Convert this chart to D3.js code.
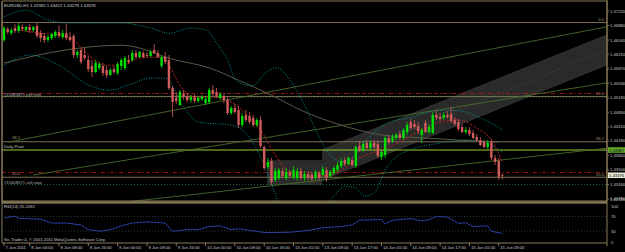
<!DOCTYPE html>
<html><head><meta charset="utf-8">
<script src="https://cdn.jsdelivr.net/npm/d3@7"></script>
<style>html,body{margin:0;padding:0;background:#000;overflow:hidden}svg{display:block}</style>
</head><body>
<svg id="c" width="625" height="252"></svg>
<script>
// ---------------- data ----------------
const titleText = "EURUSD,H1  1.43385 1.43422 1.43279 1.43376";
const rsiTitle = "RSI(14) 35.2092";
const copyright = "Sic Trader 4, \u00a9 2001-2011 MetaQuotes Software Corp.";
const timeLabels = ["7 Jun 2011","8 Jun 00:00","8 Jun 08:00","8 Jun 16:00","9 Jun 00:00","9 Jun 08:00","9 Jun 16:00","10 Jun 00:00","10 Jun 08:00","10 Jun 16:00","13 Jun 01:00","13 Jun 09:00","13 Jun 17:00","14 Jun 01:00","14 Jun 09:00","14 Jun 17:00","15 Jun 01:00","15 Jun 09:00"];
const timeLabelBars = [0,7,15,23,31,39,47,55,63,71,79,87,95,103,111,119,127,135];
const priceTicks = [1.4722,1.4688,1.4654,1.4621,1.4587,1.4553,1.4519,1.4485,1.4451,1.4418,1.4384,1.4350,1.4316,1.4282];
const bottomPriceLabel = "1.42780";
const rsiTicks = [100,70,30,0];
const rsiLevels = [70,30];
// candles: [open, high, low, close]
const candles = [
[1.46541,1.46869,1.46494,1.46822],[1.46798,1.46845,1.46681,1.46728],[1.46705,1.46822,1.46658,1.46775],[1.46822,1.46915,1.46705,1.46752],
[1.46752,1.46939,1.46705,1.46869],[1.46845,1.46915,1.46752,1.46798],[1.46775,1.46869,1.46728,1.46845],[1.46845,1.46915,1.46705,1.46775],
[1.46775,1.46869,1.46728,1.46845],[1.46869,1.46939,1.46588,1.46635],[1.46705,1.46775,1.46494,1.46588],[1.46635,1.46705,1.46471,1.46541],
[1.46541,1.46658,1.46494,1.46611],[1.46588,1.46705,1.46541,1.46681],[1.46635,1.46775,1.46588,1.46728],[1.46728,1.46892,1.46588,1.46635],
[1.46611,1.46775,1.46564,1.46705],[1.46705,1.46915,1.46541,1.46588],[1.46611,1.46728,1.46494,1.46541],[1.46635,1.46681,1.46120,1.46190],
[1.46190,1.46307,1.46120,1.46260],[1.46307,1.46354,1.45979,1.46026],[1.46190,1.46354,1.46073,1.46120],[1.46073,1.46167,1.45792,1.45862],
[1.45933,1.46073,1.45675,1.45792],[1.45792,1.46073,1.45769,1.46003],[1.45886,1.46026,1.45839,1.45979],[1.45933,1.46003,1.45699,1.45769],
[1.45839,1.45933,1.45652,1.45722],[1.45722,1.45886,1.45699,1.45839],[1.45862,1.45933,1.45745,1.45792],[1.45769,1.46026,1.45722,1.45979],
[1.45933,1.46120,1.45839,1.46073],[1.45886,1.46167,1.45839,1.46120],[1.46073,1.46190,1.45979,1.46026],[1.46073,1.46307,1.46026,1.46237],
[1.46237,1.46307,1.46120,1.46143],[1.46143,1.46284,1.46120,1.46260],[1.46237,1.46284,1.46120,1.46143],[1.46190,1.46260,1.46143,1.46167],
[1.46167,1.46307,1.46143,1.46260],[1.46307,1.46447,1.46213,1.46237],[1.46237,1.46307,1.46120,1.46143],[1.45933,1.46167,1.45886,1.46143],
[1.46143,1.46260,1.45979,1.46026],[1.46073,1.46190,1.45371,1.45418],[1.45418,1.45465,1.44739,1.45090],[1.45184,1.45324,1.45043,1.45114],
[1.45020,1.45371,1.44997,1.45324],[1.45277,1.45371,1.45137,1.45207],[1.45231,1.45301,1.45090,1.45137],[1.45137,1.45254,1.45067,1.45207],
[1.45207,1.45277,1.45067,1.45114],[1.45114,1.45231,1.45067,1.45184],[1.45161,1.45254,1.45114,1.45207],[1.45067,1.45231,1.45020,1.45161],
[1.45090,1.45418,1.45043,1.45371],[1.45371,1.45488,1.45231,1.45277],[1.45324,1.45418,1.45184,1.45231],[1.45184,1.45324,1.45137,1.45277],
[1.45231,1.45301,1.45067,1.45137],[1.45137,1.45207,1.44786,1.44833],[1.44833,1.44997,1.44786,1.44950],[1.44950,1.45043,1.44809,1.44856],
[1.44903,1.44997,1.44482,1.44552],[1.44552,1.44833,1.44505,1.44763],[1.44786,1.44903,1.44622,1.44669],[1.44763,1.44856,1.44575,1.44622],
[1.44716,1.44786,1.44505,1.44552],[1.44552,1.44716,1.44505,1.44669],[1.44669,1.44763,1.44014,1.44061],[1.44037,1.44084,1.43499,1.43546],
[1.43569,1.43780,1.43522,1.43686],[1.43710,1.43780,1.43148,1.43218],[1.43265,1.43546,1.43218,1.43476],[1.43312,1.43546,1.43265,1.43499],
[1.43476,1.43546,1.43312,1.43359],[1.43312,1.43546,1.43265,1.43452],[1.43452,1.43499,1.43312,1.43359],[1.43335,1.43593,1.43288,1.43499],
[1.43312,1.43546,1.43242,1.43476],[1.43476,1.43546,1.43265,1.43312],[1.43312,1.43476,1.43242,1.43405],[1.43405,1.43476,1.43265,1.43312],
[1.43382,1.43452,1.43242,1.43288],[1.43312,1.43499,1.43265,1.43452],[1.43429,1.43476,1.43265,1.43312],[1.43382,1.43593,1.43335,1.43522],
[1.43499,1.43569,1.43218,1.43312],[1.43359,1.43499,1.43312,1.43452],[1.43429,1.43593,1.43382,1.43546],[1.43499,1.43686,1.43452,1.43616],
[1.43593,1.43780,1.43546,1.43710],[1.43733,1.43803,1.43593,1.43639],[1.43639,1.43827,1.43616,1.43780],[1.43733,1.43803,1.43569,1.43616],
[1.43593,1.44084,1.43546,1.44037],[1.44061,1.44178,1.43920,1.43967],[1.43967,1.44178,1.43920,1.44107],[1.44131,1.44201,1.43967,1.44014],
[1.44014,1.44201,1.43967,1.44131],[1.44131,1.44201,1.43990,1.44037],[1.44107,1.44201,1.43780,1.43827],[1.43803,1.43967,1.43733,1.43920],
[1.43850,1.44295,1.43780,1.44248],[1.44248,1.44318,1.44084,1.44154],[1.44178,1.44341,1.44131,1.44271],[1.44248,1.44365,1.44201,1.44318],
[1.44341,1.44412,1.44201,1.44248],[1.44248,1.44482,1.44201,1.44435],[1.44388,1.44622,1.44318,1.44552],[1.44622,1.44692,1.44435,1.44482],
[1.44575,1.44669,1.44458,1.44505],[1.44529,1.44622,1.44341,1.44412],[1.44318,1.44482,1.44131,1.44435],[1.44599,1.44669,1.44365,1.44388],
[1.44388,1.44575,1.44341,1.44505],[1.44365,1.44856,1.44341,1.44786],[1.44786,1.44903,1.44669,1.44716],[1.44739,1.44833,1.44646,1.44692],
[1.44716,1.44856,1.44669,1.44786],[1.44786,1.44880,1.44692,1.44739],[1.44809,1.44973,1.44599,1.44646],[1.44669,1.44739,1.44529,1.44575],
[1.44622,1.44692,1.44412,1.44458],[1.44505,1.44575,1.44365,1.44388],[1.44388,1.44505,1.44341,1.44435],[1.44435,1.44505,1.44295,1.44341],
[1.44365,1.44435,1.44224,1.44248],[1.44271,1.44341,1.44154,1.44201],[1.44201,1.44271,1.44061,1.44084],[1.44154,1.44201,1.44014,1.44037],
[1.44037,1.44201,1.43990,1.44131],[1.44154,1.44224,1.43733,1.43780],[1.43780,1.43850,1.43616,1.43686],[1.43710,1.43780,1.43265,1.43335],
[1.43385,1.43422,1.43279,1.43376]
];
// indicator curves: [bar, price]
const bbUpper = [[0,1.4708],[6,1.4724],[12,1.4701],[17,1.4694],[32,1.4694],[40,1.4682],[45,1.4670],[51,1.4682],[55,1.4678],[58,1.4647],[61,1.4607],[63.6,1.4556],[68,1.4547],[71,1.4575],[74.5,1.4589],[78,1.4561],[82,1.4502],[85.7,1.4432],[89,1.4385],[92.2,1.4369],[95,1.4378],[97.7,1.4408],[101.2,1.4439],[105.3,1.4462],[110.8,1.4472],[116.2,1.4486],[121.7,1.4490],[125.8,1.4486],[129.9,1.4472],[134,1.4455],[136,1.4444]];
const bbLower = [[0,1.4595],[7,1.4619],[15,1.4595],[23,1.4549],[29,1.4537],[34,1.4549],[40,1.4565],[44,1.4565],[49,1.4497],[53,1.4462],[62,1.4455],[67.1,1.4425],[70.4,1.4373],[73.1,1.4315],[75.3,1.4268],[80.8,1.4245],[86.2,1.4256],[90.3,1.4291],[93,1.4312],[95.8,1.4308],[98.5,1.4289],[101.2,1.4298],[104,1.4350],[106.7,1.4378],[110.8,1.4397],[119,1.4413],[127.1,1.4420],[131,1.4415],[136,1.4392]];
const maFast = [[4,1.4678],[10,1.4670],[15,1.4666],[19,1.4654],[23,1.4619],[28,1.4595],[32,1.4595],[37,1.4612],[43,1.4614],[45,1.4595],[48,1.4549],[52,1.4521],[56,1.4521],[62,1.4509],[67,1.4472],[70,1.4444],[74,1.4385],[78,1.4345],[86,1.4336],[92,1.4350],[97,1.4378],[103,1.4397],[108,1.4415],[114,1.4444],[119,1.4462],[124,1.4467],[129,1.4448],[133,1.4420],[136,1.4368]];
const maSlow = [[0,1.4600],[17,1.4631],[32,1.4642],[47,1.4607],[56,1.4589],[64,1.4560],[73,1.4525],[81,1.4490],[92,1.4455],[103,1.4432],[114,1.4425],[124,1.4420],[135,1.4415]];
const rsi = [[0,65.7],[3,70.9],[4,64.9],[10,62.3],[13,51.9],[17,51.9],[21,46.8],[23,33.8],[26,29.4],[29,33.8],[32,44.2],[35,51.9],[39,55.3],[43,52.7],[44,51.9],[46,29.4],[50,33.8],[53,33.8],[56,42.3],[59,44.2],[62,33.8],[64,36.4],[67,32],[71,26],[74,26],[78,26.8],[81,29.4],[83,32],[87,39],[92,42.3],[95,46.8],[97,59.7],[103,61.6],[104,49.4],[106,59.7],[111,64.2],[114,57.9],[116,61.6],[118,70.1],[121,68.3],[124,51.2],[126,52.7],[128,42.3],[132,44.2],[133,29.4],[136,23.4]];
// objects
const fibLevels = ["0.0","23.6","38.2","50.0"];
const fibPrices = [1.4695,1.4522,1.4416,1.4333];
const pivotPrice = 1.43967;
const stopLines = [1.4529,1.4344];
const orderLines = [1.4520,1.4316];
const orderLabels = ["#15385871 sell limit","#15408571 sell stop"];
const trendLines = [[[1.1,1.4415],[164.5,1.4685]],[[7.9,1.4338],[164.5,1.4554]],[[-1.1,1.4242],[164.5,1.4401]]];
const channelUpper = [[86.8,1.4397],[164.5,1.4666]];
const channelLower = [[86.8,1.4326],[164.5,1.4596]];
const boxBars = [71.8,86.8];
const boxPrices = [1.4373,1.4315];
const bidPrice = 1.43376;

// ---------------- layout ----------------
const W=625,H=252, L=2, R=607, T=2, MB=201, RT=203, RB=243;
const svg=d3.select("#c");
svg.append("rect").attr("width",W).attr("height",H).attr("fill","#000");
const x=d3.scaleLinear().domain([0,136]).range([4,502.4]);
const y=d3.scaleLinear().domain([1.4316,1.4722]).range([184.5,11]);
const yr=d3.scaleLinear().domain([0,100]).range([242,205.5]);
const FONT="Liberation Sans, Arial, sans-serif";
const frame="#8a7b58";

svg.append("clipPath").attr("id","mc").append("rect").attr("x",L).attr("y",T).attr("width",R-L).attr("height",MB-T);
svg.append("clipPath").attr("id","rc").append("rect").attr("x",L).attr("y",RT).attr("width",R-L).attr("height",RB-RT);
const g=svg.append("g").attr("clip-path","url(#mc)");

// gray box + channel
g.append("rect").attr("x",x(boxBars[0])).attr("width",x(boxBars[1])-x(boxBars[0]))
 .attr("y",y(boxPrices[0])).attr("height",y(boxPrices[1])-y(boxPrices[0])).attr("fill","#2b2b2b");
const chPoly=[...channelUpper,...channelLower.slice().reverse()].map(p=>[x(p[0]),y(p[1])]);
g.append("path").attr("d","M"+chPoly.join("L")+"Z").attr("fill","#2a2a2a");
[channelUpper,channelLower].forEach(c=>g.append("line").attr("x1",x(c[0][0])).attr("y1",y(c[0][1])).attr("x2",x(c[1][0])).attr("y2",y(c[1][1])).attr("stroke","#3a3a3a").attr("stroke-width",0.8));
g.append("line").attr("x1",x(channelUpper[0][0])).attr("y1",y((channelUpper[0][1]+channelLower[0][1])/2))
 .attr("x2",x(channelUpper[1][0])).attr("y2",y((channelUpper[1][1]+channelLower[1][1])/2))
 .attr("stroke","#555").attr("stroke-width",0.7).attr("stroke-dasharray","1,2");

// fib lines
fibPrices.forEach((p,k)=>{
  g.append("line").attr("x1",L).attr("x2",R).attr("y1",y(p)).attr("y2",y(p)).attr("stroke","#7d6f52").attr("stroke-width",1);
  g.append("text").attr("x",R-3).attr("y",y(p)-1.5).attr("text-anchor","end").attr("fill","#a09070").attr("font-size",4.2).attr("font-family",FONT).text(fibLevels[k]);
  if(k>=2) g.append("text").attr("x",12).attr("y",y(p)-2.5).attr("fill","#a09070").attr("font-size",4.2).attr("font-family",FONT).text(fibLevels[k]);
});
// pivot
g.append("line").attr("x1",L).attr("x2",R).attr("y1",y(pivotPrice)).attr("y2",y(pivotPrice)).attr("stroke","#9acd32").attr("stroke-width",1);
g.append("text").attr("x",4).attr("y",y(pivotPrice)-2).attr("fill","#c0c0c0").attr("font-size",4.2).attr("font-family",FONT).text("Daily Pivot");
// stop lines (red dash-dot)
stopLines.forEach(p=>g.append("line").attr("x1",L).attr("x2",R).attr("y1",y(p)).attr("y2",y(p)).attr("stroke","#c01818").attr("stroke-width",0.8).attr("stroke-dasharray","4,2,1,2"));
orderLines.forEach((p,k)=>{
  g.append("line").attr("x1",L).attr("x2",R).attr("y1",y(p)).attr("y2",y(p)).attr("stroke","#1f7a4a").attr("stroke-width",0.8).attr("stroke-dasharray","1,2");
  g.append("text").attr("x",4).attr("y",y(p)-1).attr("fill","#b0b0b0").attr("font-size",4.2).attr("font-family",FONT).text(orderLabels[k]);
});
// trendlines
trendLines.forEach(t=>g.append("line").attr("x1",x(t[0][0])).attr("y1",y(t[0][1])).attr("x2",x(t[1][0])).attr("y2",y(t[1][1])).attr("stroke","#4a6b2a").attr("stroke-width",0.9));

// indicators
const line=d3.line().x(d=>x(d[0])).y(d=>y(d[1])).curve(d3.curveMonotoneX);
g.append("path").attr("d",line(maSlow)).attr("fill","none").attr("stroke","#5a5a48").attr("stroke-width",1);
[bbUpper,bbLower].forEach(b=>g.append("path").attr("d",line(b)).attr("fill","none").attr("stroke","#00a0a0").attr("stroke-width",0.9).attr("stroke-dasharray","1,1.5"));
g.append("path").attr("d",line(maFast)).attr("fill","none").attr("stroke","#c02020").attr("stroke-width",0.9).attr("stroke-dasharray","2.5,1.5");

// candles
const bw=2.4;
const cg=g.append("g");
candles.forEach((c,i)=>{
  const [o,h,l,cl]=c; const up=cl>=o; const col=up?"#00e000":"#d05c5c";
  cg.append("line").attr("x1",x(i)).attr("x2",x(i)).attr("y1",y(h)).attr("y2",y(l)).attr("stroke",col).attr("stroke-width",0.8);
  const top=y(Math.max(o,cl)), bot=y(Math.min(o,cl));
  cg.append("rect").attr("x",x(i)-bw/2).attr("width",bw).attr("y",top).attr("height",Math.max(0.8,bot-top)).attr("fill",col);
});

// frame
svg.append("rect").attr("x",L).attr("y",T-1).attr("width",R-L).attr("height",MB-T+1).attr("fill","none").attr("stroke",frame).attr("stroke-width",1);
svg.append("line").attr("x1",L).attr("x2",R).attr("y1",MB+1).attr("y2",MB+1).attr("stroke","#b09c70").attr("stroke-width",1);
svg.append("line").attr("x1",L).attr("x2",R).attr("y1",RT).attr("y2",RT).attr("stroke","#b09c70").attr("stroke-width",1);
svg.append("line").attr("x1",L).attr("x2",R).attr("y1",RB).attr("y2",RB).attr("stroke",frame).attr("stroke-width",1);
svg.append("line").attr("x1",R).attr("x2",R).attr("y1",0).attr("y2",RB+3).attr("stroke",frame).attr("stroke-width",1);
svg.append("line").attr("x1",L).attr("x2",L).attr("y1",T).attr("y2",RB).attr("stroke",frame).attr("stroke-width",1);

// title
svg.append("text").attr("x",4).attr("y",7).attr("fill","#d0d0d0").attr("font-size",4.3).attr("font-family",FONT).text(titleText);

// price axis
const ya=svg.append("g");
priceTicks.forEach(p=>{
  ya.append("line").attr("x1",R).attr("x2",R+2).attr("y1",y(p)).attr("y2",y(p)).attr("stroke",frame);
  ya.append("text").attr("x",R+3).attr("y",y(p)+1.5).attr("fill","#c8c8c8").attr("font-size",4.2).attr("font-family",FONT).text(p.toFixed(5));
});
// pivot & bid tags
[[pivotPrice,"#5fa82a","#000"],[bidPrice,"#e8e8d8","#000"]].forEach(([p,bg,fg])=>{
  ya.append("rect").attr("x",R+1).attr("y",y(p)-2.8).attr("width",17).attr("height",5.6).attr("fill",bg);
  ya.append("text").attr("x",R+2).attr("y",y(p)+1.5).attr("fill",fg).attr("font-size",4.2).attr("font-family",FONT).text(p.toFixed(5));
});
ya.append("text").attr("x",R+3).attr("y",MB-0.8).attr("fill","#c8c8c8").attr("font-size",4.2).attr("font-family",FONT).text(bottomPriceLabel);

// RSI panel
const rg=svg.append("g").attr("clip-path","url(#rc)");
rsiLevels.forEach(v=>rg.append("line").attr("x1",L).attr("x2",R).attr("y1",yr(v)).attr("y2",yr(v)).attr("stroke","#4a5a4a").attr("stroke-width",0.7).attr("stroke-dasharray","1,2"));
rg.append("path").attr("d",d3.line().x(d=>x(d[0])).y(d=>yr(d[1]))(rsi)).attr("fill","none").attr("stroke","#2a3fa0").attr("stroke-width",1);
svg.append("text").attr("x",4).attr("y",208).attr("fill","#c8c8c8").attr("font-size",4.2).attr("font-family",FONT).text(rsiTitle);
svg.append("text").attr("x",4).attr("y",241).attr("fill","#c8c8c8").attr("font-size",4.2).attr("font-family",FONT).text(copyright);
rsiTicks.forEach(v=>{
  svg.append("text").attr("x",R+4).attr("y",yr(v)+(v===100?2.2:1.5)).attr("fill","#c8c8c8").attr("font-size",4.2).attr("font-family",FONT).text(v);
});

// time axis
timeLabels.forEach((t,k)=>{
  const xx=x(timeLabelBars[k]);
  svg.append("line").attr("x1",xx).attr("x2",xx).attr("y1",RB).attr("y2",RB+3).attr("stroke",frame);
  svg.append("text").attr("x",xx+1.5).attr("y",249).attr("fill","#c8c8c8").attr("font-size",4.2).attr("font-family",FONT).text(t);
});
</script>
</body></html>
